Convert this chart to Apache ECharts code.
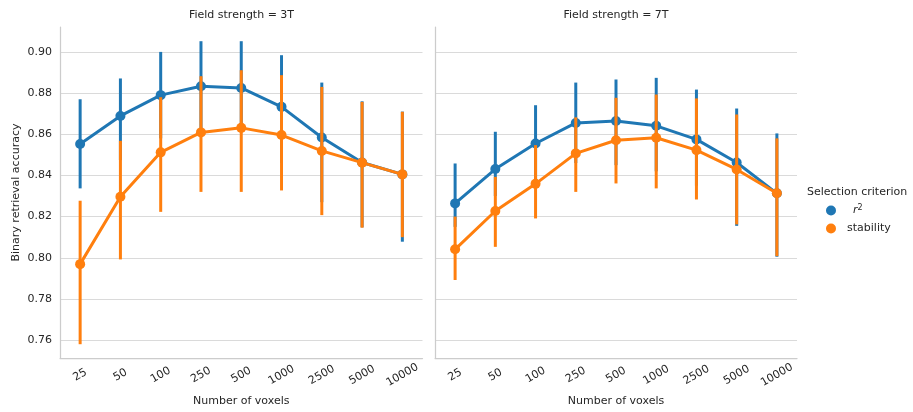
<!DOCTYPE html>
<html>
<head>
<meta charset="utf-8">
<script src="https://cdn.jsdelivr.net/npm/echarts@6/dist/echarts.min.js"></script>
<style>
  html, body { margin: 0; padding: 0; background: #ffffff; }
  #chart { width: 913px; height: 412px; }
</style>
</head>
<body>
<div id="chart"></div>
<script>
// Number of voxels kept per selection step
const voxels = ['25', '50', '100', '250', '500', '1000', '2500', '5000', '10000'];

// Accuracy tick values on the y axis
const accuracyTicks = [0.76, 0.78, 0.80, 0.82, 0.84, 0.86, 0.88, 0.90];

// Field strength = 3T
const r2Mean3T   = [0.8553, 0.8689, 0.8790, 0.8833, 0.8825, 0.8733, 0.8584, 0.8463, 0.8405];
const r2Low3T    = [0.8337, 0.8474, 0.8580, 0.8620, 0.8610, 0.8460, 0.8270, 0.8148, 0.8078];
const r2High3T   = [0.8770, 0.8871, 0.9000, 0.9052, 0.9052, 0.8984, 0.8851, 0.8760, 0.8710];
const stabMean3T = [0.7969, 0.8296, 0.8512, 0.8609, 0.8631, 0.8596, 0.8519, 0.8462, 0.8405];
const stabLow3T  = [0.7580, 0.7992, 0.8223, 0.8320, 0.8320, 0.8327, 0.8207, 0.8146, 0.8100];
const stabHigh3T = [0.8277, 0.8568, 0.8780, 0.8882, 0.8911, 0.8887, 0.8830, 0.8757, 0.8709];

// Field strength = 7T
const r2Mean7T   = [0.8264, 0.8431, 0.8555, 0.8655, 0.8664, 0.8641, 0.8575, 0.8463, 0.8313];
const r2Low7T    = [0.8150, 0.8300, 0.8370, 0.8460, 0.8450, 0.8420, 0.8350, 0.8155, 0.8005];
const r2High7T   = [0.8458, 0.8612, 0.8741, 0.8851, 0.8866, 0.8874, 0.8817, 0.8725, 0.8604];
const stabMean7T = [0.8041, 0.8227, 0.8359, 0.8507, 0.8571, 0.8583, 0.8523, 0.8429, 0.8313];
const stabLow7T  = [0.7892, 0.8053, 0.8191, 0.8320, 0.8361, 0.8337, 0.8283, 0.8162, 0.8008];
const stabHigh7T = [0.8200, 0.8393, 0.8547, 0.8682, 0.8777, 0.8793, 0.8774, 0.8696, 0.8580];

const panelTitles = ['Field strength = 3T', 'Field strength = 7T'];
const criteria = ['r2', 'stability'];

const BLUE = '#1f77b4';
const ORANGE = '#ff7f0e';
const FONT = 'DejaVu Sans';
const TEXT = '#262626';

const chart = echarts.init(document.getElementById('chart'));

const grids = [
  { left: 60, top: 27, width: 362.5, height: 332 },
  { left: 435, top: 27, width: 362, height: 332 }
];

function xAxisFor(idx) {
  return {
    type: 'category',
    gridIndex: idx,
    data: voxels,
    boundaryGap: true,
    name: 'Number of voxels',
    nameLocation: 'middle',
    nameGap: 38,
    nameTextStyle: { fontFamily: FONT, fontSize: 11, color: TEXT },
    axisLine: { show: true, lineStyle: { color: '#cccccc', width: 1.25 } },
    axisTick: { show: false },
    splitLine: { show: false },
    axisLabel: {
      rotate: 30,
      align: 'center',
      verticalAlign: 'middle',
      margin: 17,
      fontFamily: FONT,
      fontSize: 11,
      color: TEXT,
      interval: 0
    }
  };
}

function yAxisFor(idx) {
  return {
    type: 'value',
    gridIndex: idx,
    min: 0.7513,
    max: 0.9121,
    name: idx === 0 ? 'Binary retrieval accuracy' : '',
    nameLocation: 'middle',
    nameGap: 38,
    nameTextStyle: { fontFamily: FONT, fontSize: 11, color: TEXT },
    axisLine: { show: true, lineStyle: { color: '#cccccc', width: 1.25 } },
    axisTick: { show: false, customValues: accuracyTicks },
    axisLabel: {
      show: idx === 0,
      customValues: accuracyTicks,
      margin: 8,
      fontFamily: FONT,
      fontSize: 11,
      color: TEXT,
      formatter: v => v.toFixed(2)
    },
    splitLine: {
      show: true,
      lineStyle: { color: '#dadada', width: 1 }
    }
  };
}

// vertical confidence-interval bars
function errorSeries(name, color, idx, low, high, z) {
  return {
    type: 'custom',
    name: name,
    xAxisIndex: idx,
    yAxisIndex: idx,
    z: z,
    silent: true,
    itemStyle: { color: color },
    data: voxels.map((v, i) => [i, low[i], high[i]]),
    encode: { x: 0, y: [1, 2] },
    renderItem: function (params, api) {
      const top = api.coord([api.value(0), api.value(2)]);
      const bottom = api.coord([api.value(0), api.value(1)]);
      return {
        type: 'line',
        shape: { x1: top[0], y1: top[1], x2: bottom[0], y2: bottom[1] },
        style: { stroke: color, lineWidth: 3 }
      };
    }
  };
}

function lineSeries(name, color, idx, mean, z) {
  return {
    type: 'line',
    name: name,
    xAxisIndex: idx,
    yAxisIndex: idx,
    z: z,
    data: mean,
    symbol: 'circle',
    symbolSize: 10,
    showAllSymbol: true,
    itemStyle: { color: color },
    lineStyle: { color: color, width: 3 },
    emphasis: { disabled: true },
    animation: false
  };
}

const series = [
  errorSeries('r2', BLUE, 0, r2Low3T, r2High3T, 2),
  lineSeries('r2', BLUE, 0, r2Mean3T, 3),
  errorSeries('stability', ORANGE, 0, stabLow3T, stabHigh3T, 4),
  lineSeries('stability', ORANGE, 0, stabMean3T, 5),
  errorSeries('r2', BLUE, 1, r2Low7T, r2High7T, 2),
  lineSeries('r2', BLUE, 1, r2Mean7T, 3),
  errorSeries('stability', ORANGE, 1, stabLow7T, stabHigh7T, 4),
  lineSeries('stability', ORANGE, 1, stabMean7T, 5)
];

const option = {
  backgroundColor: '#ffffff',
  animation: false,
  color: [BLUE, ORANGE],
  textStyle: { fontFamily: FONT },
  title: [
    {
      text: panelTitles[0], left: 241.5, top: 10, textAlign: 'center', padding: 0,
      textStyle: { fontFamily: FONT, fontSize: 11, fontWeight: 'normal', color: TEXT }
    },
    {
      text: panelTitles[1], left: 616, top: 10, textAlign: 'center', padding: 0,
      textStyle: { fontFamily: FONT, fontSize: 11, fontWeight: 'normal', color: TEXT }
    },
    {
      text: 'Selection criterion', left: 807, top: 187, padding: 0,
      textStyle: { fontFamily: FONT, fontSize: 11, fontWeight: 'normal', color: TEXT }
    }
  ],
  legend: {
    data: criteria,
    orient: 'vertical',
    left: 826,
    top: 204,
    padding: 0,
    itemWidth: 10,
    itemHeight: 10,
    itemGap: 7,
    icon: 'circle',
    selectedMode: false,
    itemStyle: { borderWidth: 0 },
    textStyle: {
      fontFamily: FONT, fontSize: 11, color: TEXT, padding: [0, 0, 0, 6],
      rich: {
        i: { fontFamily: FONT, fontStyle: 'italic', fontSize: 11, color: TEXT, padding: [0, 0, 0, 6] },
        s: { fontFamily: FONT, fontSize: 8, color: TEXT, verticalAlign: 'top', padding: [0, 0, 5, 0] }
      }
    },
    formatter: function (name) {
      return name === 'r2' ? '{i|r}{s|2}' : name;
    }
  },
  grid: grids,
  xAxis: [xAxisFor(0), xAxisFor(1)],
  yAxis: [yAxisFor(0), yAxisFor(1)],
  series: series
};

chart.setOption(option);
</script>
</body>
</html>
